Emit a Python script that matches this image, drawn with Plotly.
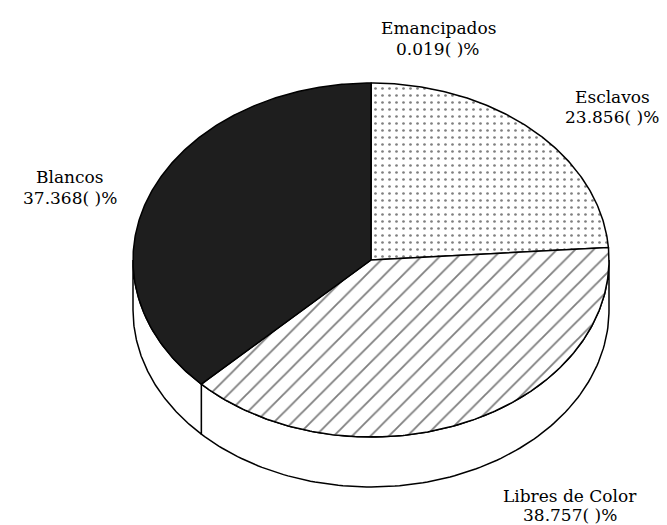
import numpy as np
import plotly.graph_objects as go

# ---- data ----
categories = ["Emancipados", "Esclavos", "Libres de Color", "Blancos"]
percentages = [0.019, 23.856, 38.757, 37.368]

# ---- styling / geometry (pixel-like units of the drawing area) ----
W, H = 667, 525
CX, CY = 363, 252
RX, RY = 238, 177
DEPTH = 50
fills = {
    "Emancipados": dict(fillcolor="white"),
    "Esclavos": dict(fillcolor="white",
                     fillpattern=dict(shape=".", size=7, solidity=0.12,
                                      fgcolor="black", bgcolor="white")),
    "Libres de Color": dict(fillcolor="white",
                            fillpattern=dict(shape="/", size=13, solidity=0.14,
                                             fgcolor="black", bgcolor="white")),
    "Blancos": dict(fillcolor="#1e1e1e"),
}
# (x center, y of first line, y of second line)
label_pos = {
    "Emancipados": (430, 20, 41),
    "Esclavos": (604, 89, 109),
    "Libres de Color": (562, 488, 507),
    "Blancos": (62, 169, 190),
}


def pt(theta_deg, dy=0.0):
    t = np.radians(theta_deg)
    return CX + RX * np.sin(t), CY - RY * np.cos(t) + dy


fig = go.Figure()

total = sum(percentages)
starts = np.concatenate([[0.0], np.cumsum(percentages)[:-1]]) / total * 360
ends = np.cumsum(percentages) / total * 360

# side walls (visible front half: 90..270 degrees)
for name, a, b in zip(categories, starts, ends):
    lo, hi = max(a, 90.0), min(b, 270.0)
    if hi <= lo:
        continue
    th = np.linspace(lo, hi, 120)
    xt, yt = pt(th)
    xb, yb = pt(th[::-1], DEPTH)
    xs = np.concatenate([xt, xb, xt[:1]])
    ys = np.concatenate([yt, yb, yt[:1]])
    fig.add_trace(go.Scatter(x=xs, y=ys, mode="lines", fill="toself",
                             fillcolor="white",
                             line=dict(color="black", width=1.5),
                             hoverinfo="skip", showlegend=False))

# top faces
for name, a, b in zip(categories, starts, ends):
    th = np.linspace(a, b, max(3, int((b - a) * 2)))
    xa, ya = pt(th)
    xs = np.concatenate([[CX], xa, [CX]])
    ys = np.concatenate([[CY], ya, [CY]])
    fig.add_trace(go.Scatter(x=xs, y=ys, mode="lines", fill="toself",
                             line=dict(color="black", width=1.5),
                             hoverinfo="skip", showlegend=False,
                             **fills[name]))

font = dict(family="DejaVu Serif", size=17, color="black")
for name, val in zip(categories, percentages):
    x, y1, y2 = label_pos[name]
    fig.add_annotation(x=x, y=y1, xref="x", yref="y", showarrow=False,
                       text=name, font=font, yanchor="middle", borderpad=0)
    fig.add_annotation(x=x, y=y2, xref="x", yref="y", showarrow=False,
                       text=f"{val:.3f}( )%", font=font, yanchor="middle",
                       borderpad=0)

fig.update_layout(
    width=W, height=H,
    margin=dict(l=0, r=0, t=0, b=0),
    paper_bgcolor="white", plot_bgcolor="white",
    xaxis=dict(range=[0, W], visible=False, fixedrange=True),
    yaxis=dict(range=[H, 0], visible=False, fixedrange=True),
)

fig.write_html("out.html")
